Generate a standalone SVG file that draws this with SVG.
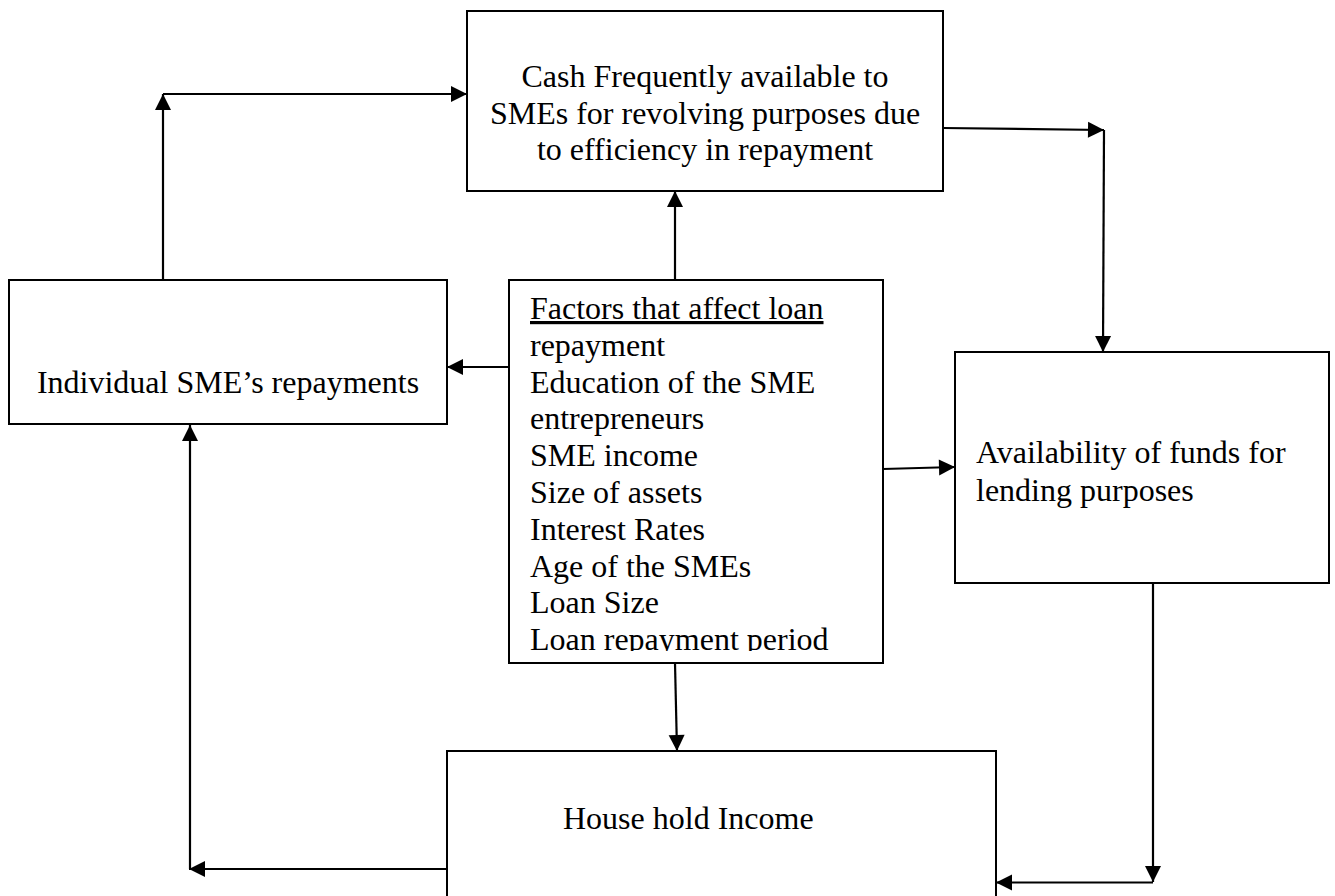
<svg xmlns="http://www.w3.org/2000/svg" width="1335" height="896" viewBox="0 0 1335 896">
  <style>
    .box { fill: #ffffff; stroke: #000000; stroke-width: 2; }
    .txt { font-family: "Liberation Serif", "Times New Roman", serif; font-size: 32px; fill: #000000; }
    .mid { text-anchor: middle; }
    .conn { stroke: #000000; stroke-width: 2.2; fill: none; marker-end: url(#arrow); }
  </style>
  <defs>
    <marker id="arrow" markerUnits="userSpaceOnUse" markerWidth="18" markerHeight="18" refX="16" refY="8" orient="auto" overflow="visible">
      <path d="M0,0 L16,8 L0,16 Z" fill="#000000"/>
    </marker>
    <clipPath id="factorsClip">
      <rect x="510" y="281" width="372" height="370"/>
    </clipPath>
  </defs>
  <rect width="1335" height="896" fill="#ffffff"/>

  <g id="node-cash">
    <rect class="box" x="467" y="11" width="476" height="180"/>
    <text class="txt mid" x="705" y="87">Cash Frequently available to</text>
    <text class="txt mid" x="705" y="123.5">SMEs for revolving purposes due</text>
    <text class="txt mid" x="705" y="160">to efficiency in repayment</text>
  </g>

  <g id="node-individual">
    <rect class="box" x="9" y="280" width="438" height="144"/>
    <text class="txt mid" x="228" y="393">Individual SME’s repayments</text>
  </g>

  <g id="node-factors">
    <rect class="box" x="509" y="280" width="374" height="383"/>
    <g clip-path="url(#factorsClip)">
      <text class="txt" x="530" y="319" text-decoration="underline">Factors that affect loan</text>
      <text class="txt" x="530" y="355.8">repayment</text>
      <text class="txt" x="530" y="392.6">Education of the SME</text>
      <text class="txt" x="530" y="429.4">entrepreneurs</text>
      <text class="txt" x="530" y="466.2">SME income</text>
      <text class="txt" x="530" y="503">Size of assets</text>
      <text class="txt" x="530" y="539.8">Interest Rates</text>
      <text class="txt" x="530" y="576.6">Age of the SMEs</text>
      <text class="txt" x="530" y="613.4">Loan Size</text>
      <text class="txt" x="530" y="650.2">Loan repayment period</text>
    </g>
  </g>

  <g id="node-availability">
    <rect class="box" x="955" y="352" width="374" height="231"/>
    <text class="txt" x="976" y="463">Availability of funds for</text>
    <text class="txt" x="976" y="500.5">lending purposes</text>
  </g>

  <g id="node-household">
    <rect class="box" x="447" y="751" width="549" height="170"/>
    <text class="txt" x="563" y="829">House hold Income</text>
  </g>

  <g id="connectors">
    <line class="conn" x1="163" y1="280" x2="163" y2="94"/>
    <line class="conn" x1="163" y1="94" x2="467" y2="94"/>
    <line class="conn" x1="943" y1="128" x2="1104" y2="130"/>
    <line class="conn" x1="1104" y1="130" x2="1103" y2="352"/>
    <line class="conn" x1="675" y1="280" x2="675" y2="191"/>
    <line class="conn" x1="509" y1="367" x2="447" y2="367"/>
    <line class="conn" x1="883" y1="469" x2="955" y2="467"/>
    <line class="conn" x1="675" y1="663" x2="677" y2="751"/>
    <line class="conn" x1="1153" y1="583" x2="1153" y2="882"/>
    <line class="conn" x1="1153" y1="882.5" x2="996" y2="882.5"/>
    <line class="conn" x1="447" y1="869" x2="189" y2="869"/>
    <line class="conn" x1="190" y1="869" x2="190" y2="425"/>
  </g>
</svg>
